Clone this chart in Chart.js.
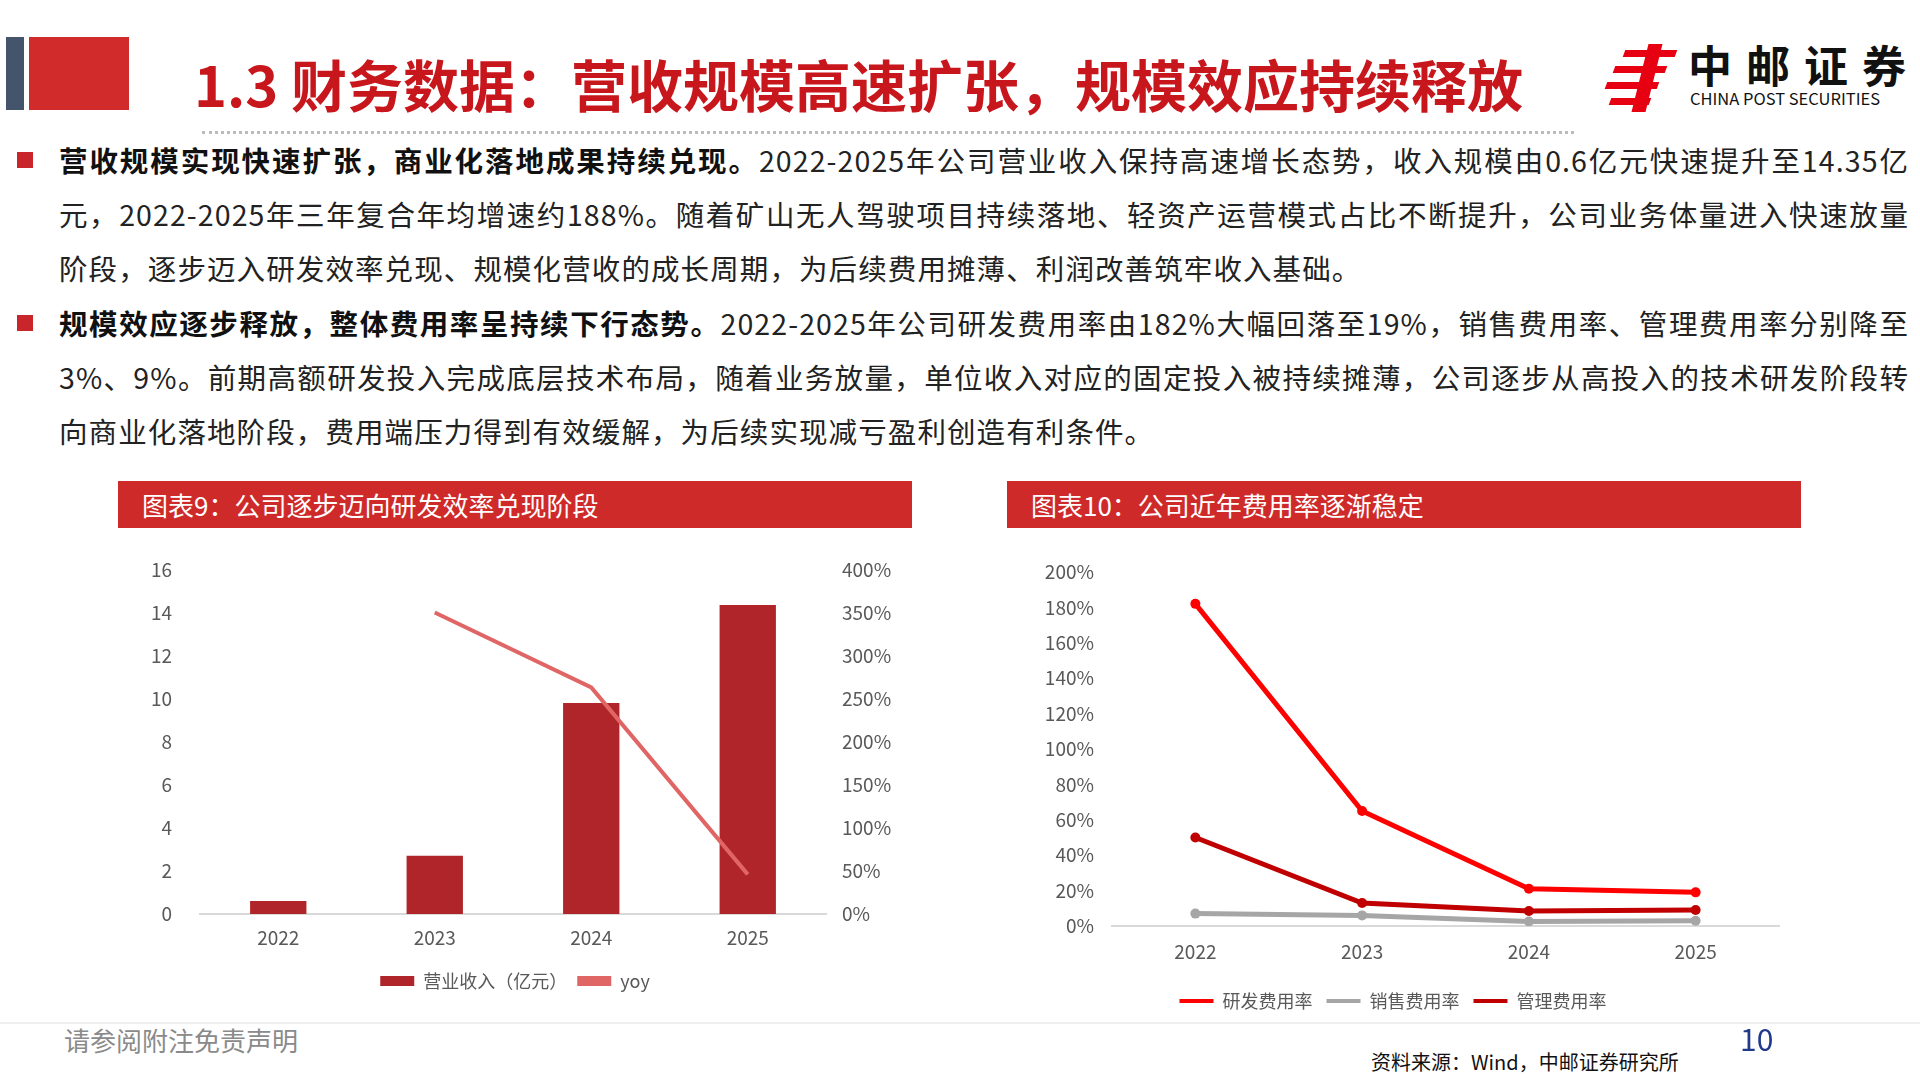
<!DOCTYPE html>
<html><head><meta charset="utf-8">
<script src="https://cdn.jsdelivr.net/npm/chart.js@4"></script>
<style>
body{margin:0;width:1920px;height:1080px;position:relative;background:#fff;font-family:"Noto Sans CJK SC","Noto Sans",sans-serif;overflow:hidden}
.abs{position:absolute}
.para{left:59px;width:1850px;font-size:28.5px;line-height:54px;color:#222;text-align:justify;letter-spacing:1.1px}
.para b{color:#111}
.bul{width:16px;height:16px;background:#c8262b;left:17px}
.hdr{background:#cf2a2a;color:#fff;font-size:26px;line-height:47px;padding-left:24px;box-sizing:border-box}
</style></head><body>
<div class="abs" style="left:6px;top:37px;width:18px;height:73px;background:#44546a"></div>
<div class="abs" style="left:29px;top:37px;width:100px;height:73px;background:#d12b2b"></div>
<div class="abs" style="left:194px;top:48px;font-size:56px;font-weight:700;color:#c8161d;line-height:70px">1.3 财务数据：营收规模高速扩张，规模效应持续释放</div>
<div class="abs" style="left:1606px;top:44px;width:70px;height:68px">
 <div class="abs" style="left:34px;top:0;width:14px;height:68px;background:#e60012;transform:skewX(-14deg)"></div>
 <div class="abs" style="left:18px;top:6px;width:52px;height:7px;background:#e60012;transform:skewX(-20deg)"></div>
 <div class="abs" style="left:8px;top:22px;width:52px;height:7px;background:#e60012;transform:skewX(-20deg)"></div>
 <div class="abs" style="left:0px;top:38px;width:52px;height:7px;background:#e60012;transform:skewX(-20deg)"></div>
 <div class="abs" style="left:4px;top:54px;width:40px;height:7px;background:#e60012;transform:skewX(-20deg)"></div>
</div>
<div class="abs" style="left:1688px;top:38px;font-size:44px;font-weight:700;color:#111;letter-spacing:14px;line-height:52px">中邮证券</div>
<div class="abs" style="left:1690px;top:88px;font-size:16.5px;color:#111;line-height:20px">CHINA POST SECURITIES</div>
<div class="abs" style="left:202px;top:131px;width:1372px;border-top:3px dotted #bbb"></div>

<div class="abs bul" style="top:152px"></div>
<div class="abs para" style="top:133px"><b>营收规模实现快速扩张，商业化落地成果持续兑现。</b>2022-2025年公司营业收入保持高速增长态势，收入规模由0.6亿元快速提升至14.35亿元，2022-2025年三年复合年均增速约188%。随着矿山无人驾驶项目持续落地、轻资产运营模式占比不断提升，公司业务体量进入快速放量阶段，逐步迈入研发效率兑现、规模化营收的成长周期，为后续费用摊薄、利润改善筑牢收入基础。</div>
<div class="abs bul" style="top:315px"></div>
<div class="abs para" style="top:296px"><b>规模效应逐步释放，整体费用率呈持续下行态势。</b>2022-2025年公司研发费用率由182%大幅回落至19%，销售费用率、管理费用率分别降至3%、9%。前期高额研发投入完成底层技术布局，随着业务放量，单位收入对应的固定投入被持续摊薄，公司逐步从高投入的技术研发阶段转向商业化落地阶段，费用端压力得到有效缓解，为后续实现减亏盈利创造有利条件。</div>

<div class="abs hdr" style="left:118px;top:481px;width:794px;height:47px">图表9：公司逐步迈向研发效率兑现阶段</div>
<div class="abs hdr" style="left:1007px;top:481px;width:794px;height:47px">图表10：公司近年费用率逐渐稳定</div>

<div class="abs" style="left:118px;top:538px;width:794px;height:462px"><canvas id="c1"></canvas></div>
<div class="abs" style="left:1007px;top:545px;width:794px;height:475px"><canvas id="c2"></canvas></div>

<div class="abs" style="left:0;top:1022px;width:1920px;border-top:2px solid #f0f0f0"></div>
<div class="abs" style="left:64px;top:1022px;font-size:26px;color:#8a8a8a;line-height:36px">请参阅附注免责声明</div>
<div class="abs" style="left:1740px;top:1018px;font-size:30px;color:#1f3a8a;line-height:40px">10</div>
<div class="abs" style="left:1371px;top:1048px;font-size:20px;color:#111;line-height:28px">资料来源：Wind，中邮证券研究所</div>

<script>
const years=['2022','2023','2024','2025'];
const revenue=[0.6,2.7,9.8,14.35];
const yoy=[null,350,263,46];
const rdRate=[182,65,21,19];
const salesRate=[7,6,2.5,3];
const mgmtRate=[50,13,8.5,9];

const F="'Noto Sans CJK SC','Noto Sans',sans-serif";
Chart.defaults.font.family=F;
Chart.defaults.color='#595959';
Chart.defaults.animation=false;

new Chart(document.getElementById('c1'),{
 data:{labels:years,datasets:[
  {type:'bar',label:'营业收入（亿元）',data:revenue,yAxisID:'y',backgroundColor:'#b0252a',barPercentage:0.72,categoryPercentage:0.5,order:1},
  {type:'line',label:'yoy',data:yoy,yAxisID:'y2',borderColor:'#e06666',backgroundColor:'#e06666',borderWidth:4,pointRadius:0,order:0}
 ]},
 options:{responsive:true,maintainAspectRatio:false,
  layout:{padding:{top:20,right:0,left:0,bottom:0}},
  plugins:{legend:{position:'bottom',labels:{font:{size:18},boxWidth:34,boxHeight:10,padding:10,
     generateLabels(c){return c.data.datasets.map((d,i)=>({text:d.label,fillStyle:d.type==='bar'?d.backgroundColor:d.borderColor,strokeStyle:'transparent',lineWidth:0,datasetIndex:i,fontColor:'#595959'}));}}},tooltip:{enabled:false}},
  scales:{
   x:{grid:{display:false,drawTicks:false},border:{color:'#d9d9d9',width:2},ticks:{font:{size:19},padding:12},afterFit(s){s.height=48;}},
   y:{min:0,max:16,ticks:{stepSize:2,font:{size:19},padding:20},grid:{display:false},border:{display:false},afterFit(s){s.width=82;}},
   y2:{position:'right',min:0,max:400,ticks:{stepSize:50,font:{size:19},padding:8,callback:v=>v+'%'},grid:{display:false},border:{display:false},afterFit(s){s.width=86;}}
  }}
});

function pt(c){return {borderColor:c,backgroundColor:c,borderWidth:5,pointRadius:5,pointBackgroundColor:c,pointBorderWidth:0}}
new Chart(document.getElementById('c2'),{
 type:'line',
 data:{labels:years,datasets:[
  Object.assign({label:'研发费用率',data:rdRate},pt('#ff0000')),
  Object.assign({label:'销售费用率',data:salesRate},pt('#a6a6a6')),
  Object.assign({label:'管理费用率',data:mgmtRate},pt('#c00000'))
 ]},
 options:{responsive:true,maintainAspectRatio:false,
  layout:{padding:{top:27,right:22,left:0,bottom:0}},
  plugins:{legend:{position:'bottom',labels:{font:{size:18},boxWidth:34,boxHeight:4,padding:14,
     generateLabels(c){return c.data.datasets.map((d,i)=>({text:d.label,fillStyle:d.borderColor,strokeStyle:d.borderColor,lineWidth:0,datasetIndex:i,fontColor:'#595959'}));}}},tooltip:{enabled:false}},
  scales:{
   x:{offset:true,grid:{display:false,drawTicks:false},border:{color:'#d9d9d9',width:2},ticks:{font:{size:19},padding:14},afterFit(s){s.height=52;}},
   y:{min:0,max:200,ticks:{stepSize:20,font:{size:19},padding:10,callback:v=>v+'%'},grid:{display:false},border:{display:false},afterFit(s){s.width=105;}}
  }}
});
</script>
</body></html>
